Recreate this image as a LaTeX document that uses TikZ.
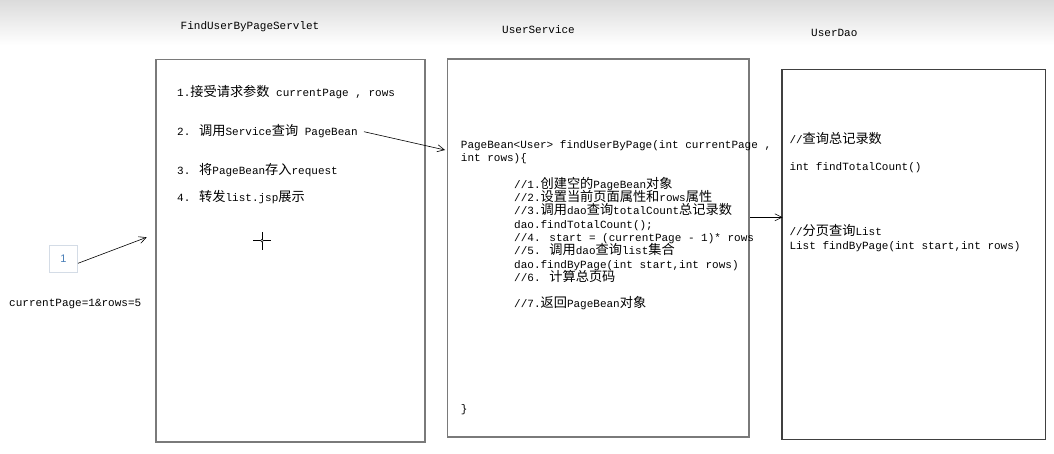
\documentclass[tikz,border=0pt]{standalone}
\usepackage{fontspec}
\usetikzlibrary{arrows.meta}
\newfontfamily\mono{Liberation Mono}
\newfontfamily\cjk[Scale=1.2]{Noto Sans CJK SC}
\newfontfamily\sansone{Liberation Sans}
\newcommand\zh[1]{{\cjk #1}}
\definecolor{boxgray}{HTML}{7A7A7A}
\definecolor{numblue}{HTML}{4A7FB8}
\definecolor{numframe}{HTML}{D4DCE6}
\tikzset{
  txt/.style={anchor=base west, inner sep=0pt, font=\mono\fontsize{11}{13.3}\selectfont},
  panel/.style={draw=boxgray, line width=1.1pt},
  conn/.style={draw=black, line width=0.6pt, -{Straight Barb[length=7pt,width=7pt]}},
}
\begin{document}
\begin{tikzpicture}[x=1pt,y=-1pt]
\useasboundingbox (0,0) rectangle (1054,453);
\fill[white] (0,0) rectangle (1054,453);
\shade[top color=black!14, bottom color=white] (0,0) rectangle (1054,45);

% titles
\node[txt] (t1) at (180.5,29) {FindUserByPageServlet};
\node[txt] (t2) at (502,33) {UserService};
\node[txt] (t3) at (811,36) {UserDao};

% panels
\draw[panel] (156,59.5) rectangle (425,442);
\draw[panel] (447.7,59) rectangle (749,437);
\draw[draw=black!75, line width=1.1pt] (782,69.3) rectangle (1045.3,439.3);
\coordinate (b2in) at (445,150);
\coordinate (b2out) at (750,217.3);
\coordinate (b3in) at (782.5,217.3);
\coordinate (b1in) at (146.7,237.3);

% servlet text
\node[txt] (s1) at (177,96) {1.\zh{接受请求参数} currentPage , rows};
\node[txt] (s2) at (177,135) {2. \zh{调用}Service\zh{查询} PageBean};
\node[txt] (s3) at (177,174.3) {3. \zh{将}PageBean\zh{存入}request};
\node[txt] (s4) at (177,201) {4. \zh{转发}list.jsp\zh{展示}};

% cursor
\coordinate (cur) at (262,240.7);
\draw[line width=0.8pt] (253,240.7) -- (271,240.7) (262,232) -- (262,250);
\draw[line width=0.5pt, fill=white] (cur) circle (1.4);

% service text
\node[txt] (u1) at (460.7,148) {PageBean<User> findUserByPage(int currentPage ,};
\node[txt] (u2) at (460.7,161.3) {int rows)\{};
\node[txt] (u3) at (514,188) {//1.\zh{创建空的}PageBean\zh{对象}};
\node[txt] (u4) at (514,201.3) {//2.\zh{设置当前页面属性和}rows\zh{属性}};
\node[txt] (u5) at (514,214.6) {//3.\zh{调用}dao\zh{查询}totalCount\zh{总记录数}};
\node[txt] (u6) at (514,228) {dao.findTotalCount();};
\node[txt] (u7) at (514,241.3) {//4. start = (currentPage - 1)* rows};
\node[txt] (u8) at (514,254.6) {//5. \zh{调用}dao\zh{查询}list\zh{集合}};
\node[txt] (u9) at (514,268) {dao.findByPage(int start,int rows)};
\node[txt] (u10) at (514,281.3) {//6. \zh{计算总页码}};
\node[txt] (u11) at (514,307) {//7.\zh{返回}PageBean\zh{对象}};
\node[txt] (u12) at (460.7,412) {\}};

% dao text
\node[txt] (d1) at (789.3,143.3) {//\zh{查询总记录数}};
\node[txt] (d2) at (789.3,170) {int findTotalCount()};
\node[txt] (d3) at (789.3,235.7) {//\zh{分页查询}List};
\node[txt] (d4) at (789.3,249.3) {List findByPage(int start,int rows)};

% request box
\node[draw=numframe, line width=0.8pt, minimum width=28pt, minimum height=27pt, inner sep=0pt,
      text=numblue, font=\sansone\fontsize{11}{12}\selectfont] (one) at (63.5,258.7) {1};
\node[txt] (req) at (9,306) {currentPage=1\&rows=5};

% connectors
\coordinate (oneout) at (78,263.3);
\draw[conn] (oneout) -- (b1in);
\coordinate (s2out) at (364,131.7);
\draw[conn] (s2out) -- (b2in);
\draw[conn] (b2out) -- (b3in);
\end{tikzpicture}
\end{document}
